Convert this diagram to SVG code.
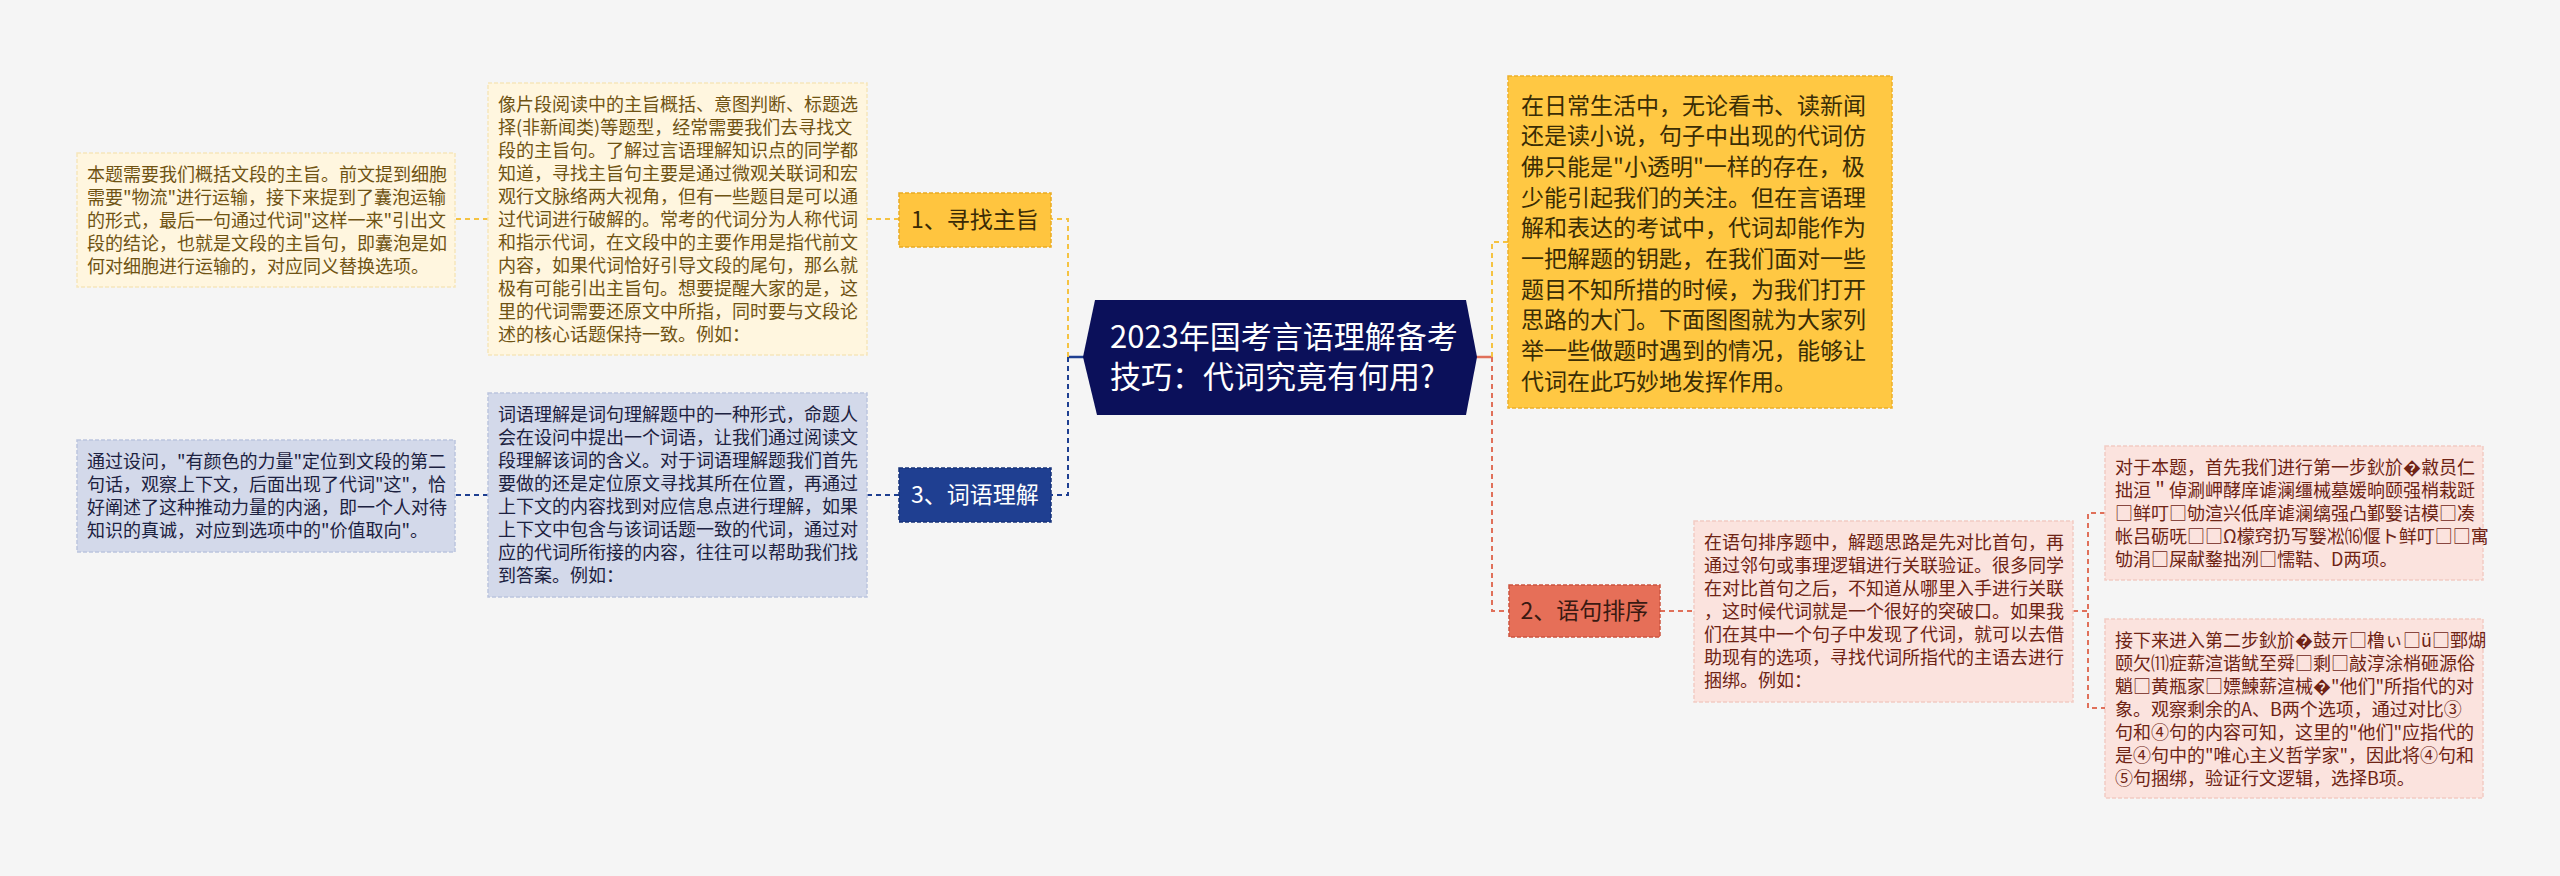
<svg xmlns="http://www.w3.org/2000/svg" width="2560" height="876" viewBox="0 0 2560 876">
<style>
.f{font-family:"Noto Sans CJK SC","Noto Sans",sans-serif}
.s18{font-size:18px}
.s23{font-size:23px}
.s31{font-size:31px}
.cream{fill:#FFF6DF;stroke:#F6E6BC;stroke-width:1.5;stroke-dasharray:4 2}
.lav{fill:#D3D9EA;stroke:#BCC5DE;stroke-width:1.5;stroke-dasharray:4 2}
.pink{fill:#FBE3DE;stroke:#F2CCC4;stroke-width:1.5;stroke-dasharray:4 2}
.gold{fill:#FFC843;stroke:#EDB02A;stroke-width:1.5;stroke-dasharray:4 2}
.tc{fill:#6F5313}
.tl{fill:#1C2140}
.tp{fill:#6E2314}
.tg{fill:#3A2D05}
.cy{fill:none;stroke:#F5C342;stroke-width:2;stroke-dasharray:5 4}
.cn{fill:none;stroke:#1E3F91;stroke-width:2;stroke-dasharray:5 4}
.cr{fill:none;stroke:#E0705A;stroke-width:2;stroke-dasharray:5 4}
</style>
<rect x="0" y="0" width="2560" height="876" fill="#F5F5F5"/>
<g id="connectors">
<line x1="1068" y1="357" x2="1084" y2="357" stroke="#1E3F91" stroke-width="2.5"/>
<line x1="1476" y1="357" x2="1492" y2="357" stroke="#E0705A" stroke-width="2.5"/>
<path class="cy" d="M1068 357 V219 H1051"/>
<path class="cn" d="M1068 357 V495 H1051"/>
<path class="cy" d="M1492 357 V242 H1508"/>
<path class="cr" d="M1492 357 V611 H1509"/>
<path class="cy" d="M899 219 H867"/>
<path class="cy" d="M488 219 H455"/>
<path class="cn" d="M899 495 H867"/>
<path class="cn" d="M488 495 H455"/>
<path class="cr" d="M1660 611 H1694"/>
<path class="cr" d="M2073 611 H2088"/>
<path class="cr" d="M2105 513 H2088 V708 H2105"/>
</g>
<g id="root">
<polygon points="1083,357 1095,300 1466,300 1477,357 1466,415 1097,415" fill="#0B105A"/>
<text class="f s31" fill="#FFFFFF"><tspan x="1110" y="348">2023年国考言语理解备考</tspan><tspan x="1110" y="388">技巧：代词究竟有何用?</tspan></text>
</g>
<g id="n1">
<rect x="899" y="193" width="152" height="54" fill="#FFC53F" stroke="#E9AA22" stroke-width="1.5" stroke-dasharray="4 2"/>
<text class="f s23" x="975" y="228" text-anchor="middle" fill="#3A2A05">1、寻找主旨</text>
</g>
<g id="n3">
<rect x="899" y="468" width="152" height="54" fill="#1F3F91" stroke="#17337A" stroke-width="1.5" stroke-dasharray="4 2"/>
<text class="f s23" x="975" y="503" text-anchor="middle" fill="#FFFFFF">3、词语理解</text>
</g>
<g id="n2">
<rect x="1509" y="585" width="151" height="52" fill="#E66F58" stroke="#CC543F" stroke-width="1.5" stroke-dasharray="4 2"/>
<text class="f s23" x="1584.5" y="619" text-anchor="middle" fill="#3A1A12">2、语句排序</text>
</g>
<g id="intro">
<rect class="gold" x="1508" y="76" width="384" height="332"/>
<text class="f s23 tg"><tspan x="1521" y="113.5">在日常生活中，无论看书、读新闻</tspan><tspan x="1521" y="144.2">还是读小说，句子中出现的代词仿</tspan><tspan x="1521" y="174.9">佛只能是"小透明"一样的存在，极</tspan><tspan x="1521" y="205.6">少能引起我们的关注。但在言语理</tspan><tspan x="1521" y="236.3">解和表达的考试中，代词却能作为</tspan><tspan x="1521" y="267">一把解题的钥匙，在我们面对一些</tspan><tspan x="1521" y="297.7">题目不知所措的时候，为我们打开</tspan><tspan x="1521" y="328.4">思路的大门。下面图图就为大家列</tspan><tspan x="1521" y="359.1">举一些做题时遇到的情况，能够让</tspan><tspan x="1521" y="389.8">代词在此巧妙地发挥作用。</tspan></text>
</g>
<g id="b1">
<rect class="cream" x="488" y="83" width="379" height="272"/>
<text class="f s18 tc"><tspan x="498" y="110.5">像片段阅读中的主旨概括、意图判断、标题选</tspan><tspan x="498" y="133.5">择(非新闻类)等题型，经常需要我们去寻找文</tspan><tspan x="498" y="156.5">段的主旨句。了解过言语理解知识点的同学都</tspan><tspan x="498" y="179.5">知道，寻找主旨句主要是通过微观关联词和宏</tspan><tspan x="498" y="202.5">观行文脉络两大视角，但有一些题目是可以通</tspan><tspan x="498" y="225.5">过代词进行破解的。常考的代词分为人称代词</tspan><tspan x="498" y="248.5">和指示代词，在文段中的主要作用是指代前文</tspan><tspan x="498" y="271.5">内容，如果代词恰好引导文段的尾句，那么就</tspan><tspan x="498" y="294.5">极有可能引出主旨句。想要提醒大家的是，这</tspan><tspan x="498" y="317.5">里的代词需要还原文中所指，同时要与文段论</tspan><tspan x="498" y="340.5">述的核心话题保持一致。例如：</tspan></text>
</g>
<g id="b1a">
<rect class="cream" x="77" y="153" width="378" height="134"/>
<text class="f s18 tc"><tspan x="87" y="180.5">本题需要我们概括文段的主旨。前文提到细胞</tspan><tspan x="87" y="203.5">需要"物流"进行运输，接下来提到了囊泡运输</tspan><tspan x="87" y="226.5">的形式，最后一句通过代词"这样一来"引出文</tspan><tspan x="87" y="249.5">段的结论，也就是文段的主旨句，即囊泡是如</tspan><tspan x="87" y="272.5">何对细胞进行运输的，对应同义替换选项。</tspan></text>
</g>
<g id="b3">
<rect class="lav" x="488" y="393" width="379" height="204"/>
<text class="f s18 tl"><tspan x="498" y="420.5">词语理解是词句理解题中的一种形式，命题人</tspan><tspan x="498" y="443.5">会在设问中提出一个词语，让我们通过阅读文</tspan><tspan x="498" y="466.5">段理解该词的含义。对于词语理解题我们首先</tspan><tspan x="498" y="489.5">要做的还是定位原文寻找其所在位置，再通过</tspan><tspan x="498" y="512.5">上下文的内容找到对应信息点进行理解，如果</tspan><tspan x="498" y="535.5">上下文中包含与该词话题一致的代词，通过对</tspan><tspan x="498" y="558.5">应的代词所衔接的内容，往往可以帮助我们找</tspan><tspan x="498" y="581.5">到答案。例如：</tspan></text>
</g>
<g id="b3a">
<rect class="lav" x="77" y="440" width="378" height="112"/>
<text class="f s18 tl"><tspan x="87" y="467.5">通过设问，"有颜色的力量"定位到文段的第二</tspan><tspan x="87" y="490.5">句话，观察上下文，后面出现了代词"这"，恰</tspan><tspan x="87" y="513.5">好阐述了这种推动力量的内涵，即一个人对待</tspan><tspan x="87" y="536.5">知识的真诚，对应到选项中的"价值取向"。</tspan></text>
</g>
<g id="b2">
<rect class="pink" x="1694" y="521" width="379" height="181"/>
<text class="f s18 tp"><tspan x="1704" y="548.5">在语句排序题中，解题思路是先对比首句，再</tspan><tspan x="1704" y="571.5">通过邻句或事理逻辑进行关联验证。很多同学</tspan><tspan x="1704" y="594.5">在对比首句之后，不知道从哪里入手进行关联</tspan><tspan x="1704" y="617.5">，这时候代词就是一个很好的突破口。如果我</tspan><tspan x="1704" y="640.5">们在其中一个句子中发现了代词，就可以去借</tspan><tspan x="1704" y="663.5">助现有的选项，寻找代词所指代的主语去进行</tspan><tspan x="1704" y="686.5">捆绑。例如：</tspan></text>
</g>
<g id="b2a">
<rect class="pink" x="2105" y="446" width="378" height="134"/>
<text class="f s18 tp"><tspan x="2115" y="473.5">对于本题，首先我们进行第一步鈥斺�敹员仁</tspan><tspan x="2115" y="496.5">拙洹＂倬涮岬酵庠谑澜缰械墓媛晌颐强梢栽跹</tspan><tspan x="2115" y="519.5">□鲜叮□劬渲兴低庠谑澜缡强凸鄞嫛诘模□凑</tspan><tspan x="2115" y="542.5">帐吕砺呒□□Ω檬窍扔写嫛凇⒃偃ト鲜叮□□寓</tspan><tspan x="2115" y="565.5">劬涓□屎献鍪拙洌□懦鞊、D两项。</tspan></text>
</g>
<g id="b2b">
<rect class="pink" x="2105" y="619" width="378" height="179"/>
<text class="f s18 tp"><tspan x="2115" y="646.5">接下来进入第二步鈥斺�鼓亓□橹ぃ□ü□鄄煳</tspan><tspan x="2115" y="669.5">颐欠⑾症薪渲谐鱿至舜□剩□敲淳涂梢砸源俗</tspan><tspan x="2115" y="692.5">魈□黄瓶家□嫖鰊薪渲械�"他们"所指代的对</tspan><tspan x="2115" y="715.5">象。观察剩余的A、B两个选项，通过对比③</tspan><tspan x="2115" y="738.5">句和④句的内容可知，这里的"他们"应指代的</tspan><tspan x="2115" y="761.5">是④句中的"唯心主义哲学家"，因此将④句和</tspan><tspan x="2115" y="784.5">⑤句捆绑，验证行文逻辑，选择B项。</tspan></text>
</g>
</svg>
